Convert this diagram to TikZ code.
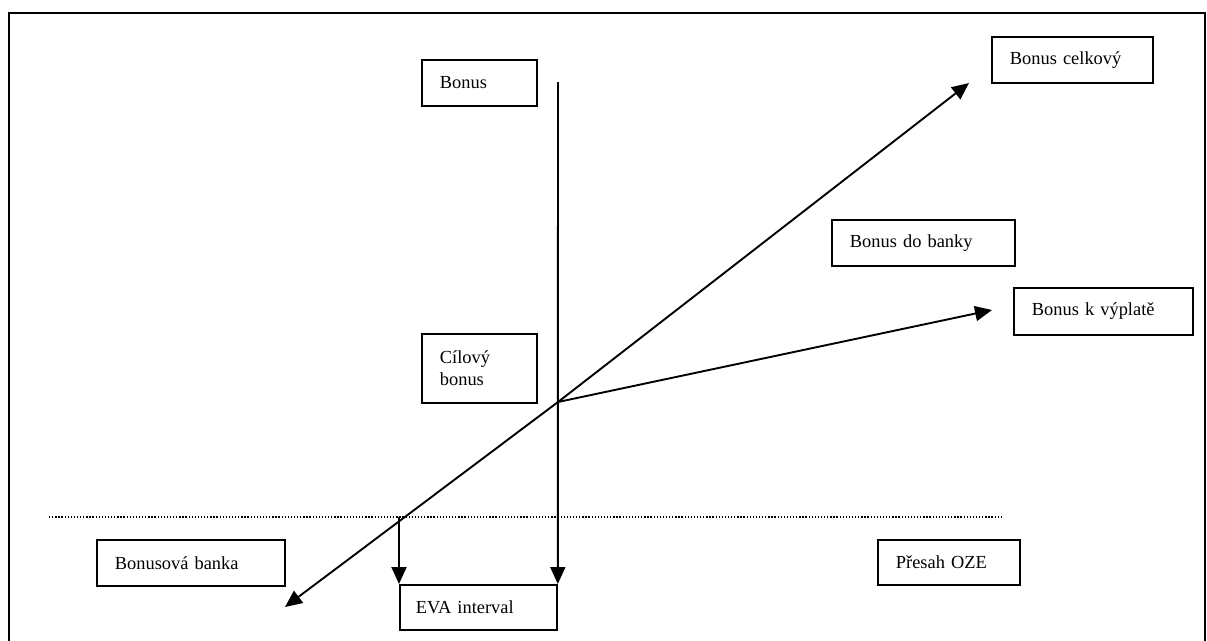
\documentclass[tikz,border=0pt]{standalone}
\usepackage{fontspec}
\setmainfont{Liberation Serif}
\usetikzlibrary{arrows.meta}

\tikzset{
  box/.style={draw, line width=1.8pt, anchor=north west, align=left,
    inner xsep=18pt, inner ysep=0pt,
    font=\fontsize{18.4}{22}\selectfont},
  flow/.style={line width=1.9pt, -{Triangle[length=17pt,width=15pt]}},
  frameline/.style={line width=1.8pt},
  limit/.style={line width=1.4pt, dash pattern=on 1.3pt off 1.8pt}
}

\begin{document}
\begin{tikzpicture}[x=1pt, y=-1pt]
  \useasboundingbox (0,0) rectangle (1207,640);

  % page frame (open at the bottom)
  \draw[frameline] (9,650) -- (9,13) -- (1205,13) -- (1205,650);

  % boxes
  \node[box, text width=79pt,  minimum height=46pt] (bonus)  at (421,59)  {Bonus};
  \node[box, text width=79pt,  minimum height=69pt] (target) at (421,333) {Cílový\\bonus};
  \node[box, text width=125pt, minimum height=46pt] (total)  at (991,36)  {Bonus celkový};
  \node[box, text width=147pt, minimum height=46pt] (tobank) at (831,219) {Bonus do banky};
  \node[box, text width=143pt, minimum height=47pt] (payout) at (1013,287){Bonus k výplatě};
  \node[box, text width=152pt, minimum height=46pt] (bank)   at (96,539)  {Bonusová banka};
  \node[box, text width=106pt, minimum height=45pt] (oze)    at (877,539) {Přesah OZE};
  \node[box, text width=125pt, minimum height=45pt, inner xsep=16pt] (eva) at (399,584) {EVA interval};

  % free ends of the connectors
  \coordinate (top)    at (558,82);
  \coordinate (c)      at (558,402);
  \coordinate (ctotal) at (969,83);
  \coordinate (cbank)  at (285,607);
  \coordinate (cpay)   at (992,310);
  \coordinate (lim1)   at (49,517);
  \coordinate (lim2)   at (1003,517);
  \coordinate (cut)    at (399,517);

  % dotted limit line
  \draw[limit] (lim1) -- (lim2);

  % connectors
  \draw[flow] (top) -- (eva.north east);
  \draw[flow] (cut) -- (eva.north west);
  \draw[flow] (c) -- (ctotal);
  \draw[flow] (c) -- (cbank);
  \draw[flow] (c) -- (cpay);
\end{tikzpicture}
\end{document}
